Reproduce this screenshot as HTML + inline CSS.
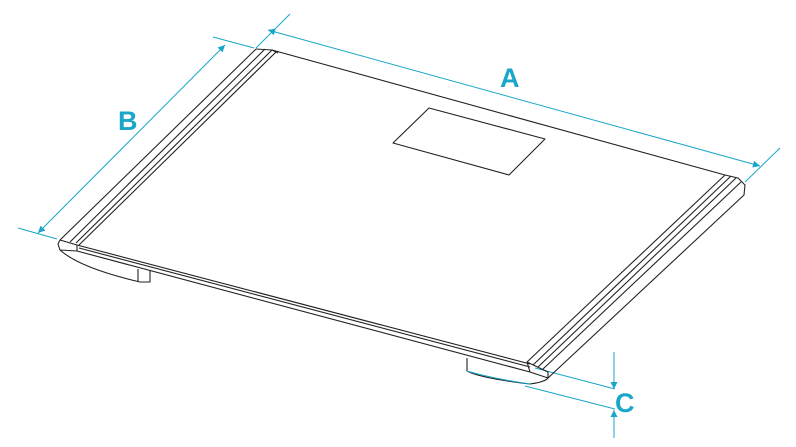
<!DOCTYPE html>
<html><head><style>html,body{margin:0;padding:0;background:#fff;width:796px;height:447px;overflow:hidden}</style></head>
<body>
<svg width="796" height="447" viewBox="0 0 796 447" xmlns="http://www.w3.org/2000/svg">
<defs>
<marker id="ar" viewBox="0 0 10 10" refX="10" refY="5" markerWidth="9" markerHeight="7" orient="auto-start-reverse" markerUnits="userSpaceOnUse"><path d="M0,0 L10,5 L0,10 z" fill="#1aa6c8"/></marker>
</defs>
<g fill="none" stroke="#1aa6c8" stroke-width="1">
<!-- A -->
<line x1="256" y1="48" x2="290" y2="14"/>
<line x1="745" y1="182" x2="780" y2="148"/>
<line x1="268" y1="30" x2="760" y2="166" marker-start="url(#ar)" marker-end="url(#ar)"/>
<!-- B -->
<line x1="213" y1="37" x2="254" y2="48"/>
<line x1="18" y1="228" x2="57" y2="239"/>
<line x1="225" y1="45" x2="38" y2="233" marker-start="url(#ar)" marker-end="url(#ar)"/>
<!-- C -->
<line x1="535" y1="368" x2="615" y2="389"/>
<line x1="525" y1="386" x2="615" y2="409"/>
<line x1="614" y1="352" x2="614" y2="389" marker-end="url(#ar)"/>
<line x1="614" y1="438" x2="614" y2="410" marker-end="url(#ar)"/>
</g>
<g font-family="Liberation Sans, sans-serif" font-weight="bold" fill="#1aa6c8" font-size="27">
<text x="500" y="87">A</text>
<text x="118" y="130">B</text>
<text x="615" y="412">C</text>
</g>
<g fill="none" stroke="#222" stroke-width="1.1" stroke-linejoin="round">
<!-- top outline -->
<path d="M272,50 L725,175"/>
<path d="M256,49 L272,50 L278,53"/>
<path d="M725,175 L738,178 L745,185 L744,195 L548,378"/>
<!-- left rail -->
<path d="M256,49 L60,240"/>
<path d="M265,49 L70,242"/>
<path d="M272,50 L76,243"/>
<path d="M276,52 L79,245"/>
<path d="M60,240 L58,244 L60,250 L77,251 L77,245 L60,240"/>
<!-- front edge -->
<path d="M77,245 L530,364"/>
<path d="M79,248 L530,367"/>
<path d="M77,251 L530,372"/>
<!-- right rail -->
<path d="M725,175 L527,362"/>
<path d="M731,176 L533,365"/>
<path d="M736,178 L538,367"/>
<path d="M741,182 L543,369"/>
<path d="M527,362 L530,372 L548,378 L548,372 L527,362"/>
<!-- screen -->
<path d="M429,108 L545,139 L509,175 L393,143 Z"/>
<!-- left foot -->
<path d="M60,250 Q80,268 140,282 L150,282 L150,270"/>
<path d="M138,269 L138,282"/>
<!-- right foot -->
<path d="M467,358 L467,371 Q480,378 530,384 Q545,382 548,378"/>
</g>
<path d="M467,371 Q490,378 530,384" fill="none" stroke="#1aa6c8" stroke-width="1"/>
</svg>
</body></html>
